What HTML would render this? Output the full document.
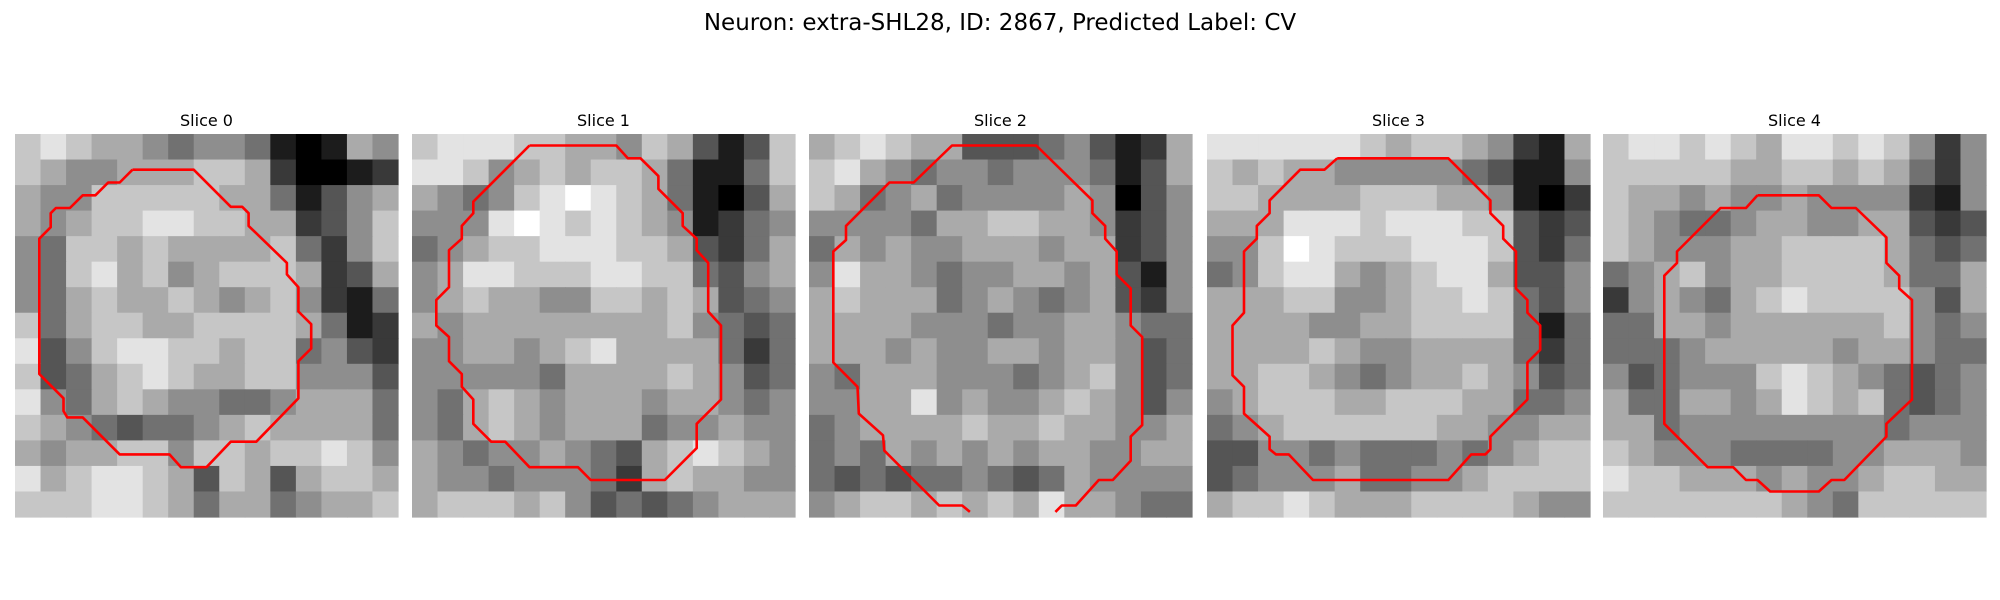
<!DOCTYPE html>
<html><head><meta charset="utf-8"><style>
body{margin:0;background:#fff;}
svg{display:block;font-family:"DejaVu Sans","Liberation Sans",sans-serif;}
</style></head><body>
<svg id="fig" width="2000" height="600" viewBox="0 0 2000 600" xmlns="http://www.w3.org/2000/svg">
<text x="1000" y="30" text-anchor="middle" font-size="23" fill="#000">Neuron: extra-SHL28, ID: 2867, Predicted Label: CV</text>
</svg>
<script>
const sliceTitles = ["Slice 0","Slice 1","Slice 2","Slice 3","Slice 4"];
const img0 = ["787665455410165","765566677620012","655777776641356","656778877662357","547767666674257","547867567776236","546766765675214","746776677776412","835788776774532","734678766775553","854676554456664","765434456766664","656677577677875","867887637636776","777887646645667"];
const img1 = ["788877665763137","887567677641147","654578987641036","555898787651245","456778887763246","568877788774356","567665577676345","656666666675434","556656786666424","555554666676534","546765666566545","546765666455655","654556543678765","655455542676655","677767534345666"];
const img2 = ["678766333453126","786545545554136","764564555565035","555546677665235","465655666566235","586654556656315","676664565456325","666655545566544","666565566566534","546665554567534","556685655676535","456666766766556","454656565665566","434344543465555","567767676866544"];
const img3 = ["888888767765216","767665555543115","776666777665102","666888788877323","557987778887324","457886567886335","666775567787435","666655667777414","666676556666424","667765456676534","567776677766445","456777777665566","335545444545677","345556445567777","677876667777655"];
const img4 = ["788787688787525","777776677676425","766565565555215","765445665566323","765556677776434","456756677776446","256546787777536","446656666667545","444566666566544","534555787654345","644665687674345","664555555554555","765554444556665","877666565567766","777777765477777"];
const images = [img0,img1,img2,img3,img4];
const contour0 = [[9.2,2.8],[14,2.8],[16.9,5.7],[17.8,5.7],[18.3,6.2],[18.3,7.2],[21.3,10.1],[21.3,11],[22.2,12],[22.2,13.9],[23.2,14.9],[23.2,16.8],[22.2,17.8],[22.2,20.7],[18.9,24.1],[16.9,24.1],[15,26.1],[13,26.1],[12.1,25.1],[8.2,25.1],[5.3,22.2],[4.1,22.2],[3.8,21.7],[3.8,20.7],[1.9,18.8],[1.9,8.2],[2.8,7.3],[2.8,6.2],[3.2,5.8],[4.3,5.8],[5.3,4.8],[6.3,4.8],[7.3,3.8],[8.2,3.8],[9.2,2.8]];
const contour1 = [[9.2,0.9],[16,0.9],[16.9,1.9],[17.9,1.9],[19.3,3.3],[19.3,4.3],[21.2,6.2],[21.2,7.2],[22.3,8.2],[22.3,9.1],[23.2,10.1],[23.2,13.9],[24.2,15],[24.2,20.8],[22.3,22.7],[22.3,24.6],[19.8,27.1],[14,27.1],[13,26.1],[9.2,26.1],[7.3,24.1],[6.2,24.1],[4.8,22.7],[4.8,20.8],[3.9,19.8],[3.9,18.8],[2.9,17.8],[2.9,15.9],[1.9,15],[1.9,13],[2.9,12],[2.9,9.1],[3.9,8.2],[3.9,7.2],[4.8,6.2],[4.8,5.3],[9.2,0.9]];
const contour2 = [[12.6,29.6],[12,29.1],[10.2,29.1],[5.9,24.8],[5.8,23.6],[3.9,21.9],[3.8,19.8],[1.9,17.9],[1.9,9.2],[2.9,8.3],[2.9,7.2],[6.3,3.8],[8.2,3.8],[11.2,0.9],[17.8,0.9],[22.2,5.2],[22.2,6.2],[23.2,7.2],[23.2,8.2],[24.1,9.2],[24.1,11],[25.2,12.1],[25.2,15],[26.1,15.9],[26.1,22.8],[25.2,23.7],[25.2,25.6],[23.8,27.1],[22.7,27.1],[20.9,29.1],[19.8,29.1],[19.3,29.6]];
const contour3 = [[10.2,1.9],[18.9,1.9],[22.2,5.2],[22.2,6.2],[23.2,7.2],[23.2,8.2],[24.2,9.2],[24.2,12.1],[25.1,13],[25.1,14],[26.1,15],[26.1,16.9],[25.1,17.9],[25.1,20.8],[22.2,23.7],[22.2,24.7],[21.8,25.1],[20.7,25.1],[18.9,27.1],[8.3,27.1],[6.4,25.1],[5.4,25.1],[4.9,24.7],[4.9,23.7],[2.9,21.9],[2.9,19.8],[2,18.9],[2,15],[2.9,14],[2.9,9.2],[3.9,8.2],[3.9,7.2],[4.9,6.2],[4.9,5.2],[7.3,2.8],[9.2,2.8],[10.2,1.9]];
const contour4 = [[12.1,4.8],[16.9,4.8],[17.9,5.8],[19.8,5.8],[22.2,8.1],[22.2,10.1],[23.2,11.1],[23.2,12.1],[24.2,13],[24.2,20.8],[22.2,22.7],[22.2,23.7],[18.9,27.1],[17.9,27.1],[16.9,28],[13.1,28],[12.1,27.1],[11.2,27.1],[10.2,26.1],[8.2,26.1],[4.8,22.7],[4.8,11.1],[5.8,10.1],[5.8,9.2],[9.2,5.8],[11.2,5.8],[12.1,4.8]];
const contours = [contour0,contour1,contour2,contour3,contour4];

const NS = "http://www.w3.org/2000/svg";
const svg = document.getElementById('fig');
const panelX = [15,412,809,1207,1603], panelY = 134, panelS = 383, pixN = 30;
function mk(tag, attrs){const e=document.createElementNS(NS,tag);for(const k in attrs)e.setAttribute(k,attrs[k]);return e;}
images.forEach((rows,p)=>{
  const g = mk('g',{});
  
  
  const x0 = panelX[p];
  const n = rows.length, cs = panelS/n;
  const sx = v => x0 + v*panelS/pixN, sy = v => panelY + v*panelS/pixN;
  const t = mk('text',{x:x0+panelS/2,y:panelY-8,'text-anchor':'middle','font-size':'16',fill:'#000'});
  t.textContent = sliceTitles[p];
  
  
  g.appendChild(t);
  rows.forEach((row,r)=>{
    [...row].forEach((ch,c)=>{
      const v = Math.round(parseInt(ch)*255/9);
      const rc = mk('rect',{x:(x0+c*cs).toFixed(2),y:(panelY+r*cs).toFixed(2),width:(cs+0.6).toFixed(2),height:(cs+0.6).toFixed(2),fill:`rgb(${v},${v},${v})`});
      
      
      g.appendChild(rc);
    });
  });
  const pts = contours[p].map(q=>sx(q[0]).toFixed(1)+','+sy(q[1]).toFixed(1)).join(' ');
  const pl = mk('polyline',{points:pts,fill:'none',stroke:'#ff0000','stroke-width':'2.6','stroke-linejoin':'round'});
  
  
  g.appendChild(pl);
  svg.appendChild(g);
});
</script>
</body></html>
